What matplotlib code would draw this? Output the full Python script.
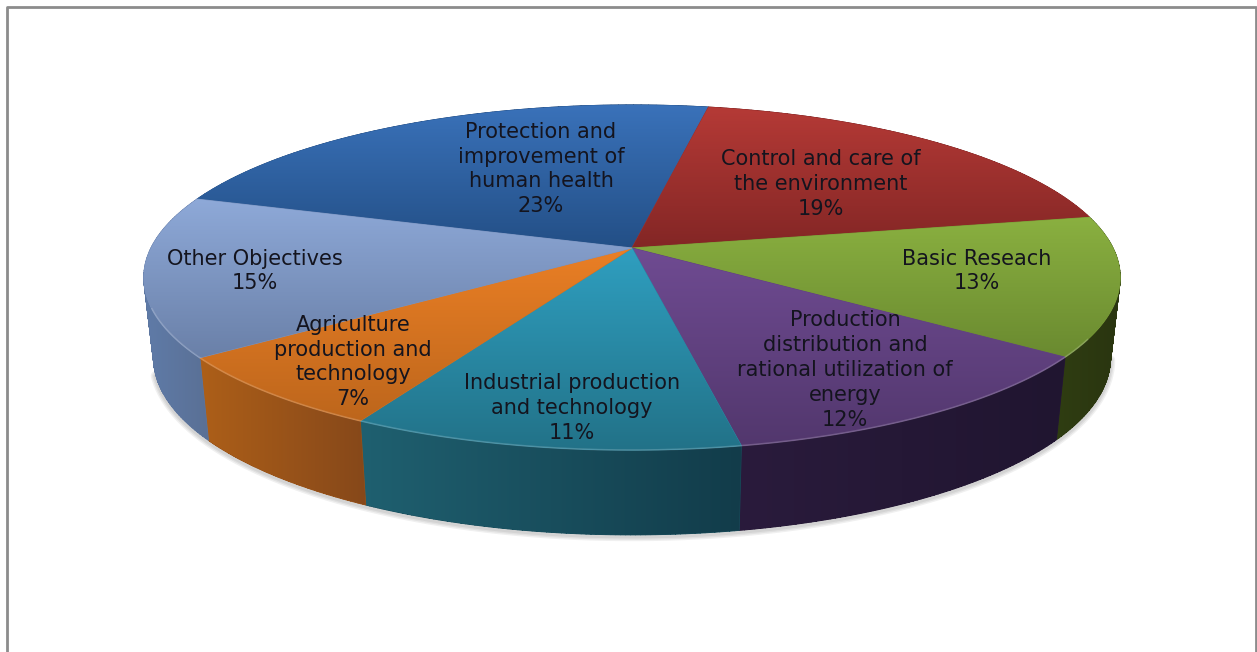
import numpy as np
import matplotlib
matplotlib.use("Agg")
import matplotlib.pyplot as plt
from matplotlib.colors import LinearSegmentedColormap, to_rgb
from matplotlib.patches import PathPatch, Polygon
from matplotlib.path import Path

categories = [
    "Protection and\nimprovement of\nhuman health",
    "Control and care of\nthe environment",
    "Basic Reseach",
    "Production\ndistribution and\nrational utilization of\nenergy",
    "Industrial production\nand technology",
    "Agriculture\nproduction and\ntechnology",
    "Other Objectives",
]
values = [23, 19, 13, 12, 11, 7, 15]

# top face: light -> dark going down the slice
top_light = ["#3a72ba", "#b53a36", "#8ab040", "#6f4b92", "#2f9fc0", "#ea7f25", "#8ea9d8"]
top_dark = ["#234f86", "#832625", "#6a8a30", "#52376d", "#227288", "#bd661c", "#6a80a8"]
# side wall: left -> right
side_left = ["#1d3c66", "#621c1c", "#2f3d12", "#2a1b3c", "#1f6070", "#ad5f18", "#5f7ba8"]
side_right = ["#1d3c66", "#621c1c", "#2a3510", "#201530", "#123c4a", "#86481a", "#5a7095"]

label_pos = [(541, 169), (821, 184), (977, 271), (845, 370), (572, 408), (353, 362), (255, 271)]

W, H = 1257, 652
START = -72.1  # degrees clockwise from the back of the pie


def project(theta, depth=0.0):
    # circle -> screen with a simple perspective; depth 0 is the top face, 1 the bottom
    u = np.sin(np.radians(theta))
    v = np.cos(np.radians(theta))
    den = 1 + 0.171 * v
    sx = 1 - 0.02 * depth
    x = 632 + 481 * sx * u / den
    y = 248 + 80 * depth - (167.5 + 4 * depth) * v / den
    return x, y


def gradient_fill(ax, path, c0, c1, horizontal=False):
    # solid base first so the clipped edges of the gradient leave no white seam
    mid = tuple((a + b) / 2 for a, b in zip(to_rgb(c0), to_rgb(c1)))
    ax.add_patch(PathPatch(path, facecolor=mid, edgecolor=mid, lw=0.7))
    patch = PathPatch(path, facecolor="none", edgecolor="none")
    ax.add_patch(patch)
    cmap = LinearSegmentedColormap.from_list("g", [c0, c1])
    x0, y0 = path.vertices.min(axis=0)
    x1, y1 = path.vertices.max(axis=0)
    ramp = np.linspace(0, 1, 256)
    ramp = ramp.reshape(1, -1) if horizontal else ramp.reshape(-1, 1)
    im = ax.imshow(ramp, cmap=cmap, extent=(x0, x1, y1, y0), aspect="auto",
                   interpolation="bilinear", zorder=patch.get_zorder())
    im.set_clip_path(patch)


def wall_path(th):
    # one quad per step, all wound the same way, so the side silhouette gets covered
    xt, yt = project(th, 0)
    xb, yb = project(th, 1)
    quads = []
    for j in range(len(th) - 1):
        q = np.array([[xt[j], yt[j]], [xt[j + 1], yt[j + 1]], [xb[j + 1], yb[j + 1]], [xb[j], yb[j]]])
        area = np.sum(q[:, 0] * np.roll(q[:, 1], -1) - np.roll(q[:, 0], -1) * q[:, 1])
        if area < 0:
            q = q[::-1]
        quads.append(Path(np.vstack([q, q[0]]), closed=True))
    return Path.make_compound_path(*quads)


fig = plt.figure(figsize=(W / 100, H / 100), dpi=100)
ax = fig.add_axes([0, 0, 1, 1])
ax.set_xlim(0, W)
ax.set_ylim(H, 0)
ax.axis("off")

# chart frame, open at the bottom
ax.plot([6.5, 6.5, 1256, 1256], [H + 5, 7, 7, H + 5], color="#8c8c8c", lw=2)

edges = START + np.cumsum([0] + values) * 3.6

# soft shadow below the pie
ring = np.linspace(100, 255, 200)
sx, sy = project(ring, 1)
for lw in [7, 5, 3]:
    ax.plot(sx, sy + 1.5, color="black", alpha=0.06, lw=lw, solid_capstyle="round", zorder=1)

# side walls
for i in range(len(values)):
    th = np.linspace(edges[i], edges[i + 1], 80)
    gradient_fill(ax, wall_path(th), side_left[i], side_right[i], horizontal=True)

# top face
for i in range(len(values)):
    th = np.linspace(edges[i], edges[i + 1], 120)
    xt, yt = project(th, 0)
    face = Path(np.column_stack([np.r_[632, xt, 632], np.r_[248, yt, 248]]), closed=True)
    gradient_fill(ax, face, top_light[i], top_dark[i])

# lighter rim on the front edge
rim = np.linspace(120, 250, 200)
rx, ry = project(rim, 0)
ax.plot(rx, ry, color="white", alpha=0.18, lw=1.2, zorder=3)

for name, val, (x, y) in zip(categories, values, label_pos):
    ax.text(x, y, f"{name}\n{val}%", ha="center", va="center", ma="center",
            family="DejaVu Sans", fontsize=15, color="#14141e", linespacing=1.3, zorder=5)

ax.set_xlim(0, W)
ax.set_ylim(H, 0)
fig.savefig("out.png", dpi=100)
